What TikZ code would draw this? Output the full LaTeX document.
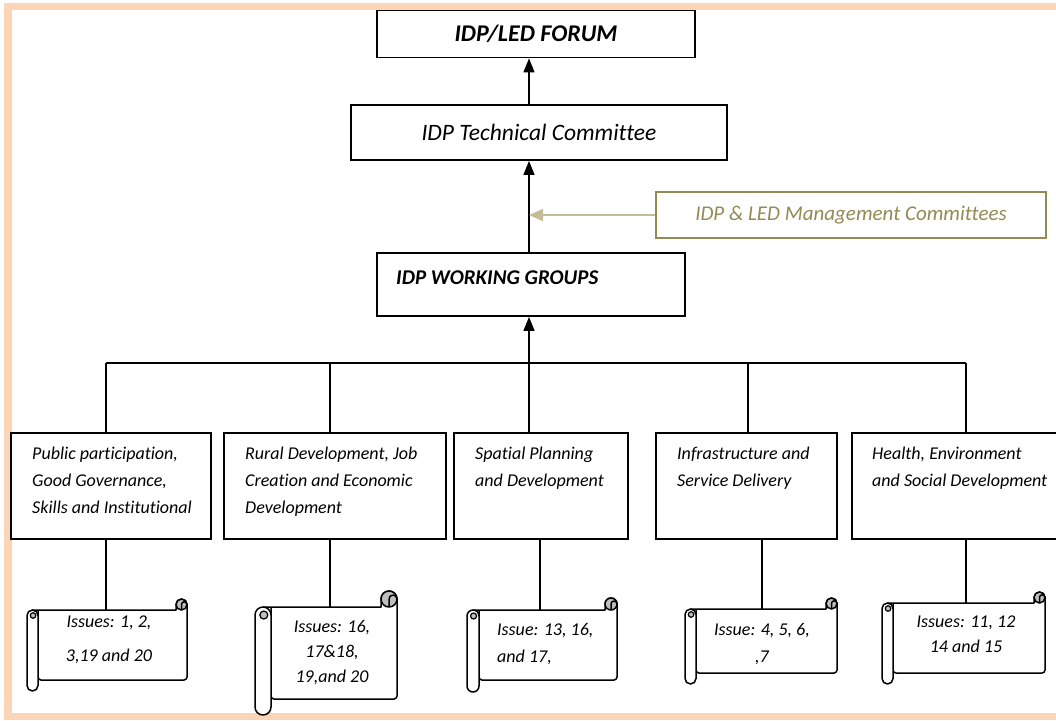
\documentclass[tikz,border=0pt]{standalone}
\usepackage{fontspec}
\setmainfont{Carlito}[Ligatures={NoCommon}]
\usetikzlibrary{arrows.meta}
\definecolor{peach}{HTML}{FBD5B5}
\definecolor{olivetxt}{HTML}{948A54}
\definecolor{olivearrow}{HTML}{C4BD97}
\definecolor{curlgray}{HTML}{BFBFBF}
\tikzset{
  box/.style={draw, line width=1.8pt, inner sep=0pt},
  conn/.style={line width=1.5pt},
  arr/.style={line width=1.5pt, -{Triangle[length=14pt,width=11pt]}},
  cattext/.style={font=\fontsize{18}{27}\selectfont\itshape, align=left, inner sep=0pt, anchor=north west},
  isstext/.style={font=\fontsize{18}{27}\selectfont\itshape, inner sep=0pt, anchor=north},
  scrollln/.style={line width=1.5pt, line join=round},
}
% L T R B c  (page pixels, y downwards)
\newcommand\drawscroll[5]{%
  \filldraw[scrollln, fill=white] ({#1+#5/2},{#2+#5}) -- ({#3-#5},{#2+#5}) -- ({#3-#5},{#2+#5/2})
    arc[start angle=180,end angle=0,radius={#5/2*1pt}]
    [rounded corners=3pt] -- ({#3},{#4-#5}) -- ({#1+#5},{#4-#5}) [sharp corners] -- ({#1+#5},{#2+#5}) -- cycle;
  \filldraw[scrollln, fill=curlgray] ({#3-#5/2},{#2+#5/2}) circle[radius={#5/2*1pt}];
  \draw[scrollln] ({#3-#5/2},{#2+#5}) -- ({#3-#5/2},{#2+#5/2}) arc[start angle=180,end angle=0,radius={#5/4*1pt}];
  \filldraw[scrollln, fill=white] (#1,{#2+1.5*#5}) -- (#1,{#4-#5/2})
    arc[start angle=180,end angle=360,radius={#5/2*1pt}] -- ({#1+#5},{#2+1.5*#5})
    arc[start angle=0,end angle=180,radius={#5/2*1pt}] -- cycle;
  \filldraw[line width=1.2pt, fill=curlgray] ({#1+#5*0.55},{#2+1.5*#5}) circle[radius={#5/4*1pt}];
}
\begin{document}
\begin{tikzpicture}[x=1pt,y=-1pt]
\useasboundingbox (0,0) rectangle (1056,720);
\clip (0,0) rectangle (1056,720);
\fill[white] (0,0) rectangle (1056,720);
% page frame
\fill[peach] (4,3) rectangle (1056,10);
\fill[peach] (4,3) rectangle (12,720);
\fill[peach] (4,713) rectangle (1056,720);

\coordinate (ax) at (529,0);

% top hierarchy
\node[box, minimum width=318pt, minimum height=47pt, font=\fontsize{24}{27}\selectfont\bfseries\itshape] (forum) at (536,34) {IDP/LED FORUM};
\node[box, minimum width=376pt, minimum height=55pt, font=\fontsize{23.5}{27}\selectfont\itshape] (tech) at (539,132.5) {IDP Technical Committee};
\node[box, minimum width=308pt, minimum height=63pt] (wg) at (531,284.5) {};
\node[font=\fontsize{21}{25}\selectfont\bfseries\itshape, inner sep=0pt, anchor=west] (wgt) at (396,278) {IDP WORKING GROUPS};
\node[draw=olivetxt, line width=1.8pt, minimum width=390pt, minimum height=46pt, inner sep=0pt, text=olivetxt, font=\fontsize{21}{25}\selectfont\itshape] (mgmt) at (851,215) {IDP \& LED Management Committees};

\draw[arr] (tech.north -| ax) -- (forum.south -| ax);
\draw[arr] (wg.north -| ax) -- (tech.south -| ax);
\draw[line width=1.5pt, olivearrow, -{Triangle[length=14pt,width=12pt]}] (mgmt.west) -- (mgmt.west -| ax);

% bus
\coordinate (b1) at (106,363);
\coordinate (b2) at (330,363);
\coordinate (b3) at (529,363);
\coordinate (b4) at (748,363);
\coordinate (b5) at (966,363);
\draw[conn] (b1) -- (b5);
\draw[arr] (b3) -- (wg.south -| ax);

% category boxes
\node[box, minimum width=200pt, minimum height=106pt] (cat1) at (111,486) {};
\node[box, minimum width=222pt, minimum height=106pt] (cat2) at (335,486) {};
\node[box, minimum width=174pt, minimum height=106pt] (cat3) at (541,486) {};
\node[box, minimum width=181pt, minimum height=106pt] (cat4) at (746.5,486) {};
\node[box, minimum width=218pt, minimum height=106pt] (cat5) at (961,486) {};

\node[cattext] (c1t) at (32,447) {Public participation,\\Good Governance,\\Skills and Institutional};
\node[cattext] (c2t) at (245,447) {Rural Development, Job\\Creation and Economic\\Development};
\node[cattext] (c3t) at (475,447) {Spatial Planning\\and Development};
\node[cattext] (c4t) at (677,447) {Infrastructure and\\Service Delivery};
\node[cattext] (c5t) at (872,447) {Health, Environment\\and Social Development};

\draw[conn] (b1) -- (cat1.north -| b1);
\draw[conn] (b2) -- (cat2.north -| b2);
\draw[conn] (b3) -- (cat3.north -| b3);
\draw[conn] (b4) -- (cat4.north -| b4);
\draw[conn] (b5) -- (cat5.north -| b5);

% scrolls
\drawscroll{27}{599}{187}{691}{11}
\drawscroll{255}{591}{397}{715}{16}
\drawscroll{467}{598}{617}{692}{12}
\drawscroll{685}{598}{837}{684}{11}
\drawscroll{882}{592}{1045}{684}{11}

\coordinate (s1) at (106,610);
\coordinate (s2) at (330,607);
\coordinate (s3) at (540,610);
\coordinate (s4) at (762,609);
\coordinate (s5) at (966,603);
\draw[conn] (cat1.south -| s1) -- (s1);
\draw[conn] (cat2.south -| s2) -- (s2);
\draw[conn] (cat3.south -| s3) -- (s3);
\draw[conn] (cat4.south -| s4) -- (s4);
\draw[conn] (cat5.south -| s5) -- (s5);

\node[isstext, align=center, font=\fontsize{18}{34}\selectfont\itshape] (i1) at (109,616) {Issues: 1, 2,\\3,19 and 20};
\node[isstext, align=center, font=\fontsize{18}{25}\selectfont\itshape] (i2) at (332,620) {Issues: 16,\\17\&18,\\19,and 20};
\node[isstext, align=left, anchor=north west] (i3) at (497,623) {Issue: 13, 16,\\and 17,};
\node[isstext, align=center] (i4) at (762,623) {Issue: 4, 5, 6,\\,7};
\node[isstext, align=center, font=\fontsize{18}{25}\selectfont\itshape] (i5) at (966,616) {Issues: 11, 12\\14 and 15};
\end{tikzpicture}
\end{document}
